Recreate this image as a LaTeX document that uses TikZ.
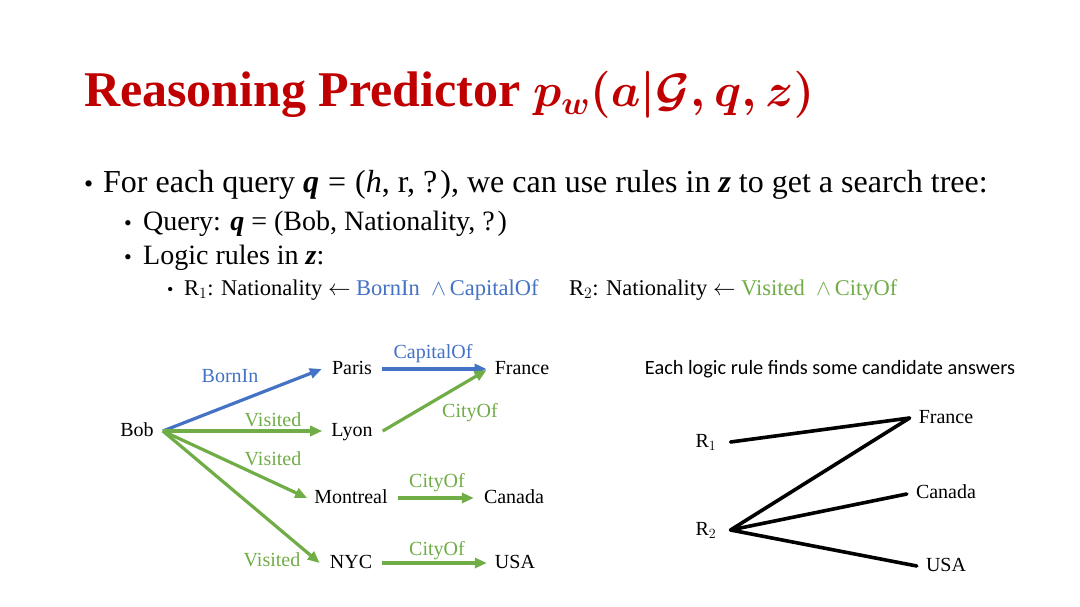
\RequirePackage{fix-cm}
\documentclass[tikz,border=0pt]{standalone}
\usepackage{fontspec}
\setmainfont{Liberation Serif}
\newfontfamily\calib{Carlito}
\usetikzlibrary{arrows.meta}
\definecolor{titlered}{RGB}{192,0,0}
\definecolor{eblue}{RGB}{68,114,196}
\definecolor{egreen}{RGB}{112,173,71}
\begin{document}
\begin{tikzpicture}[x=1pt,y=-1pt,
  txt/.style={anchor=base west, inner sep=0pt},
  ent/.style={inner sep=0pt, text height=14pt, text depth=3pt, font=\fontsize{20}{24}\selectfont},
  lab/.style={inner sep=0pt, text height=14pt, text depth=3pt, font=\fontsize{20}{24}\selectfont},
  arr/.style={line width=3.2pt, -{Triangle[length=12pt,width=10pt]}},
  rl/.style={line width=3.6pt, line cap=round}
]
\fill[white] (0,0) rectangle (1080,607);
\useasboundingbox (0,0) rectangle (1080,607);

% title
\node[txt, text=titlered, font=\fontsize{50}{60}\selectfont\bfseries] (title) at (84,107)
  {Reasoning Predictor {\fontsize{47}{56}\selectfont\boldmath$p_{w}(a|\mathcal{G},q,z)$}};

% bullets
\node[txt, font=\fontsize{32}{38}\selectfont] (l1) at (84,193)
  {\makebox[19pt][l]{\fontsize{26}{30}\selectfont\textbullet}For each query \textbf{\textit{q}}\hspace{9pt}=\hspace{9pt}(\textit{h}, r, ?\hspace{3pt}), we can use rules in \textbf{\textit{z}} to get a search tree:};
\node[txt, font=\fontsize{28}{33}\selectfont] (l2) at (124,230)
  {\makebox[19pt][l]{\fontsize{22}{26}\selectfont\textbullet}Query: \textbf{\textit{q}}\hspace{7pt}=\hspace{7pt}(Bob, Nationality, ?\hspace{3pt})};
\node[txt, font=\fontsize{28}{33}\selectfont] (l3) at (124,264)
  {\makebox[19pt][l]{\fontsize{22}{26}\selectfont\textbullet}Logic rules in \textbf{\textit{z}}:};
\node[txt, font=\fontsize{22.5}{27}\selectfont] (l4a) at (167,295)
  {\makebox[17pt][l]{\fontsize{18}{22}\selectfont\textbullet}R$_1$: Nationality $\leftarrow$ \textcolor{eblue}{BornIn \ $\land$\,CapitalOf}};
\node[txt, font=\fontsize{22.5}{27}\selectfont] (l4b) at (569,295)
  {R$_2$: Nationality $\leftarrow$ \textcolor{egreen}{Visited \ $\land$\,CityOf}};

% left graph
\node[ent] (bob) at (137,431) {Bob};
\node[ent] (paris) at (352,369) {Paris};
\node[ent] (france) at (522,369) {France};
\node[ent] (lyon) at (352,431) {Lyon};
\node[ent] (montreal) at (351,498) {Montreal};
\node[ent] (canada) at (514,498) {Canada};
\node[ent] (nyc) at (351,563) {NYC};
\node[ent] (usa) at (515,563) {USA};
\coordinate (bobout) at ([xshift=9pt]bob.east);

\draw[arr, eblue] (bobout) -- ([xshift=-10pt]paris.west);
\draw[arr, eblue] ([xshift=10pt]paris.east) -- ([xshift=-8pt]france.west);
\draw[arr, egreen] (bobout) -- ([xshift=-9pt]lyon.west);
\draw[arr, egreen] ([xshift=10pt]lyon.east) -- ([xshift=-8pt,yshift=-1pt]france.west);
\draw[arr, egreen] (bobout) -- ([xshift=-7pt]montreal.west);
\draw[arr, egreen] ([xshift=10pt]montreal.east) -- ([xshift=-10pt]canada.west);
\draw[arr, egreen] (bobout) -- ([xshift=-10pt]nyc.west);
\draw[arr, egreen] ([xshift=10pt]nyc.east) -- ([xshift=-8pt]usa.west);

\node[lab, text=eblue] (lborn) at (230,377) {BornIn};
\node[lab, text=eblue] (lcap) at (433,353) {CapitalOf};
\node[lab, text=egreen] (lvis1) at (273,421) {Visited};
\node[lab, text=egreen] (lcity1) at (470,412) {CityOf};
\node[lab, text=egreen] (lvis2) at (273,460) {Visited};
\node[lab, text=egreen] (lcity2) at (437,482) {CityOf};
\node[lab, text=egreen] (lcity3) at (437,550) {CityOf};
\node[lab, text=egreen] (lvis3) at (272,561) {Visited};

% right graph
\node[inner sep=0pt, font=\calib\fontsize{20.3}{24}\selectfont] (rtitle) at (830,369) {Each logic rule finds some candidate answers};
\node[ent] (r1) at (706,442) {R$_1$};
\node[ent] (r2) at (706,530) {R$_2$};
\node[ent] (fr2) at (946,418) {France};
\node[ent] (ca2) at (946,493) {Canada};
\node[ent] (us2) at (946,566) {USA};
\coordinate (r1p) at ([xshift=14pt]r1.east);
\coordinate (r2p) at ([xshift=14pt]r2.east);
\draw[rl] (r1p) -- ([xshift=-9pt]fr2.west);
\draw[rl] (r2p) -- ([xshift=-9pt]fr2.west);
\draw[rl] (r2p) -- ([xshift=-9pt,yshift=-1pt]ca2.west);
\draw[rl] (r2p) -- ([xshift=-9pt]us2.west);
\end{tikzpicture}
\end{document}
